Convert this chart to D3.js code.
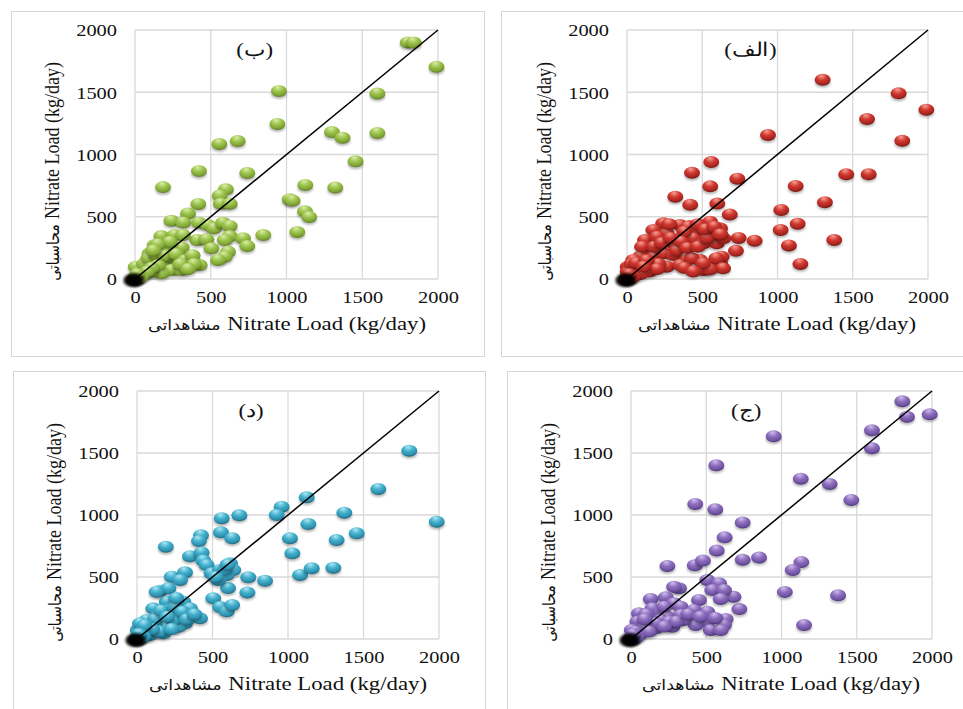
<!DOCTYPE html>
<html>
<head>
<meta charset="utf-8">
<script src="https://cdn.jsdelivr.net/npm/d3@7"></script>
<style>
  html, body { margin: 0; padding: 0; background: #fff; }
  svg { display: block; }
</style>
</head>
<body>
<svg id="chart" width="963" height="709"></svg>
<script>
// Tick values shared by both axes of every panel
const ticks = [0, 500, 1000, 1500, 2000];
const axisTitleEn = "Nitrate Load (kg/day)";
const xTitleFa = "مشاهداتی";
const yTitleFa = "محاسباتی";
const panelLabels = ["(ب)", "(الف)", "(د)", "(ج)"];

// [observed, computed] nitrate loads, kg/day
const loadsB = [
  [0,0],[6,3],[12,10],[3,12],[18,6],[22,20],
  [1800,1900],[1840,1900],[1990,1705],[950,1510],[1600,1490],[940,1245],[1300,1180],[1370,1135],
  [1600,1172],[557,1084],[678,1108],[1456,945],[422,867],[741,851],[185,738],[1124,755],[1322,735],
  [1021,640],[1040,630],[1122,544],[1150,498],[1071,378],[847,353],[600,720],[559,670],[418,602],
  [566,605],[625,605],[350,527],[240,468],[318,454],[422,452],[482,434],[521,407],[581,452],[625,426],
  [625,345],[592,313],[713,327],[741,265],[411,313],[471,319],[504,246],[614,219],[592,179],[548,153],
  [427,112],[350,166],[273,99],[207,153],[174,345],[130,273],[262,353],[317,353],[97,206],[163,233],
  [218,246],[284,259],[253,246],[308,254],[220,185],[264,126],[176,153],[75,139],[42,99],[5,99],
  [20,46],[119,153],[174,126],[240,179],[240,72],[306,72],[174,46],[108,59],[60,40],[30,60],
  [60,120],[90,170],[140,200],[190,230],[230,300],[200,190],[150,110],[110,90],[80,60],[270,200],
  [330,150],[380,190],[390,120],[300,120],[350,80],[150,280],[120,230],[40,20],[15,40]
];
const loadsAlef = [
  [0,0],[6,3],[12,10],[3,12],[18,6],[22,20],
  [1300,1600],[1805,1491],[1989,1360],[1595,1285],[1829,1111],[937,1156],[560,939],[432,854],
  [733,806],[553,744],[1121,747],[1457,841],[1606,841],[321,661],[420,596],[600,606],[683,519],
  [1315,617],[1025,554],[1021,393],[1134,444],[1076,270],[1152,120],[1377,313],[742,330],[848,307],
  [724,227],[241,447],[352,434],[417,426],[175,393],[120,313],[197,300],[264,367],[319,273],[407,420],
  [463,393],[552,460],[618,407],[441,327],[507,287],[596,287],[640,327],[563,353],[142,233],[86,179],
  [42,153],[5,99],[175,179],[241,206],[308,193],[397,153],[485,153],[264,99],[352,112],[430,166],
  [552,86],[618,126],[629,179],[507,72],[64,72],[5,59],[594,166],[638,86],[550,78],[505,126],
  [30,120],[100,260],[200,340],[280,440],[380,380],[330,230],[210,120],[150,60],[90,40],[40,30],
  [60,130],[130,150],[180,260],[230,290],[290,330],[360,300],[400,250],[470,260],[530,330],[470,440],
  [520,400],[580,420],[620,360],[380,90],[440,60],[200,80],[110,100],[40,20],[15,40]
];
const loadsDal = [
  [0,0],[6,3],[12,10],[3,12],[18,6],[22,20],
  [1803,1519],[1598,1210],[1985,946],[1124,1143],[958,1067],[925,1000],[1373,1019],[1135,927],
  [1013,812],[1322,798],[1455,852],[1029,691],[1080,516],[1157,570],[1300,575],[561,973],[678,998],
  [556,860],[631,812],[424,836],[410,790],[191,744],[351,668],[428,697],[439,634],[737,498],[848,470],
  [731,375],[603,411],[505,328],[550,258],[594,223],[630,274],[230,502],[318,538],[285,476],[461,597],
  [494,530],[550,556],[616,610],[638,556],[594,516],[539,476],[152,390],[208,409],[197,301],[108,247],
  [141,194],[219,234],[307,301],[351,247],[285,194],[417,167],[318,127],[274,99],[197,99],[119,99],
  [42,99],[5,73],[64,153],[20,127],[174,46],[86,32],[130,381],[240,150],[60,40],[30,60],
  [80,120],[120,160],[160,230],[250,260],[300,220],[260,330],[200,180],[150,60],[230,80],[330,160],
  [380,200],[100,80],[50,110],[580,560],[520,500],[600,600],[40,20],[15,40]
];
const loadsJim = [
  [0,0],[6,3],[12,10],[3,12],[18,6],[22,20],
  [1803,1917],[1834,1793],[1985,1812],[1601,1683],[1601,1538],[948,1635],[567,1401],[1128,1293],
  [1320,1250],[1464,1121],[427,1089],[560,1046],[742,940],[622,820],[570,713],[742,640],[851,657],
  [242,589],[424,594],[478,633],[1132,620],[1074,556],[1022,380],[1376,352],[1150,113],[720,241],
  [681,341],[507,476],[585,449],[540,395],[618,395],[319,409],[286,422],[596,323],[452,315],[131,323],
  [231,336],[286,288],[330,261],[53,207],[142,247],[197,220],[241,180],[330,194],[419,234],[507,220],
  [419,167],[507,140],[629,161],[618,113],[530,73],[596,73],[430,113],[352,153],[275,99],[197,153],
  [131,153],[42,140],[5,73],[86,99],[164,86],[253,140],[60,40],[30,60],
  [100,200],[170,130],[220,260],[300,140],[380,200],[460,180],[560,170],[90,160],[120,60],[220,100],
  [40,20],[15,40]
];

// Panel layout: frame box, plot box, marker palette
const panels = [
  { id: "b",    data: loadsB,    label: panelLabels[0], labelAt: 790,
    frame: [11, 11, 484, 356],  plot: { left: 135, right: 438, bottom: 279, top: 30 },
    colors: ["#dcedaa", "#9cc44d", "#7ea334", "#55751a"] },
  { id: "alef", data: loadsAlef, label: panelLabels[1], labelAt: 820,
    frame: [501, 11, 966, 356], plot: { left: 627, right: 928, bottom: 279, top: 30 },
    colors: ["#f6a096", "#cf372e", "#a82520", "#6e120e"] },
  { id: "dal",  data: loadsDal,  label: panelLabels[2], labelAt: 755,
    frame: [13, 371, 485, 712], plot: { left: 137, right: 439, bottom: 639, top: 391 },
    colors: ["#aee7f4", "#42b0cc", "#2d8ead", "#195f76"] },
  { id: "jim",  data: loadsJim,  label: panelLabels[3], labelAt: 765,
    frame: [507, 371, 966, 712], plot: { left: 631, right: 932, bottom: 639, top: 391 },
    colors: ["#cfbdec", "#8d6ebd", "#6f52a2", "#45307a"] }
];

const serif = "Liberation Serif, Times New Roman, serif";
const faFont = "DejaVu Sans, Noto Sans, sans-serif";
const stretch = 1.2;   // glyphs are drawn slightly wide
const gridColor = "#d9d9d9";
const ink = "#111";

const svg = d3.select("#chart");
const defs = svg.append("defs");
defs.append("filter").attr("id", "soft")
  .attr("x", "-50%").attr("y", "-50%").attr("width", "200%").attr("height", "200%")
  .append("feGaussianBlur").attr("stdDeviation", 1.3);
defs.append("filter").attr("id", "pile")
  .attr("x", "-80%").attr("y", "-80%").attr("width", "260%").attr("height", "260%")
  .append("feGaussianBlur").attr("stdDeviation", 1.8);

// English title anchored at its end, Persian word placed just before it
function axisTitle(g, transform, fa, en, enSize, faSize) {
  const t = g.append("g").attr("transform", transform);
  const enText = t.append("text")
    .attr("text-anchor", "end")
    .style("font-family", serif).style("font-size", enSize + "px").style("fill", ink)
    .text(en);
  const w = enText.node().getComputedTextLength();
  t.append("text")
    .attr("x", -w - enSize * 0.3)
    .attr("text-anchor", "end")
    .style("font-family", faFont).style("font-size", faSize + "px").style("fill", ink)
    .text(fa);
}

panels.forEach(p => {
  const grad = defs.append("radialGradient").attr("id", "ball-" + p.id)
    .attr("cx", "45%").attr("cy", "30%").attr("r", "72%")
    .attr("fx", "42%").attr("fy", "18%");
  [[0, p.colors[0]], [0.45, p.colors[1]], [0.8, p.colors[2]], [1, p.colors[3]]]
    .forEach(([o, c]) => grad.append("stop").attr("offset", o).attr("stop-color", c));

  const [fx0, fy0, fx1, fy1] = p.frame;
  svg.append("rect")
    .attr("x", fx0 + 0.5).attr("y", fy0 + 0.5)
    .attr("width", fx1 - fx0).attr("height", fy1 - fy0)
    .attr("fill", "#fff").attr("stroke", "#d6d6d6").attr("stroke-width", 1);

  const x = d3.scaleLinear().domain([0, 2000]).range([p.plot.left, p.plot.right]);
  const y = d3.scaleLinear().domain([0, 2000]).range([p.plot.bottom, p.plot.top]);

  const g = svg.append("g");

  // gridlines
  g.append("g").selectAll("line").data(ticks).join("line")
    .attr("x1", d => x(d)).attr("x2", d => x(d))
    .attr("y1", y(0)).attr("y2", y(2000))
    .attr("stroke", gridColor).attr("stroke-width", 1.3);
  g.append("g").selectAll("line").data(ticks).join("line")
    .attr("y1", d => y(d)).attr("y2", d => y(d))
    .attr("x1", x(0)).attr("x2", x(2000))
    .attr("stroke", gridColor).attr("stroke-width", 1.3);

  // axes: labels only
  const xAxis = g.append("g").attr("transform", `translate(0,${y(0)})`)
    .call(d3.axisBottom(x).tickValues(ticks).tickSize(0).tickFormat(d3.format("d")));
  xAxis.attr("font-family", null).attr("font-size", null);
  xAxis.select(".domain").remove();
  xAxis.selectAll("text")
    .attr("y", 24).attr("dy", null)
    .attr("transform", `scale(${stretch},1)`)
    .style("font-family", serif).style("font-size", "17px").style("fill", ink);

  const yAxis = g.append("g").attr("transform", `translate(${x(0)},0)`)
    .call(d3.axisLeft(y).tickValues(ticks).tickSize(0).tickFormat(d3.format("d")));
  yAxis.attr("font-family", null).attr("font-size", null);
  yAxis.select(".domain").remove();
  yAxis.selectAll("text")
    .attr("x", -18 / stretch).attr("dy", "0.34em")
    .attr("transform", `scale(${stretch},1)`)
    .style("font-family", serif).style("font-size", "17px").style("fill", ink);

  // markers: soft shadow under each ball, drawn in series order
  const marks = g.append("g").selectAll("g").data(p.data).join("g")
    .attr("transform", d => `translate(${x(d[0])},${y(d[1])})`);
  marks.append("ellipse")
    .attr("cx", 0).attr("cy", 3).attr("rx", 8).attr("ry", 5)
    .attr("fill", "#000").attr("opacity", 0.28).attr("filter", "url(#soft)");
  marks.append("ellipse")
    .attr("rx", 8).attr("ry", 6)
    .attr("fill", `url(#ball-${p.id})`);

  // piled-up shadows of the near-zero loads
  g.append("g").selectAll("ellipse")
    .data(p.data.filter(d => d[0] <= 25 && d[1] <= 25)).join("ellipse")
    .attr("cx", d => x(d[0]) - 3).attr("cy", d => y(d[1]) + 2)
    .attr("rx", 8.5).attr("ry", 5.5)
    .attr("fill", "#000").attr("opacity", 0.5).attr("filter", "url(#pile)");

  // 1:1 line
  g.append("line")
    .attr("x1", x(0)).attr("y1", y(0)).attr("x2", x(2000)).attr("y2", y(2000))
    .attr("stroke", "#000").attr("stroke-width", 1.5);

  // panel label
  g.append("text")
    .attr("transform", `translate(${x(p.labelAt)},${y(1790)}) scale(${stretch},1)`)
    .attr("text-anchor", "middle")
    .style("font-family", serif).style("font-size", "19px").style("fill", ink)
    .text(p.label);

  // axis titles
  axisTitle(g, `translate(${p.plot.right - 12},${p.plot.bottom + 51}) scale(${stretch},1)`,
    xTitleFa, axisTitleEn, 19, 14.5);
  axisTitle(g, `translate(${p.plot.left - 76},${p.plot.top + 32}) scale(${stretch},1) rotate(-90)`,
    yTitleFa, axisTitleEn, 18, 14);
});
</script>
</body>
</html>
